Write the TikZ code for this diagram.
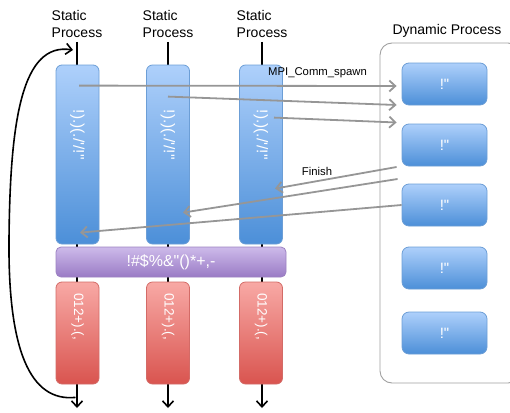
\documentclass[tikz,border=0pt]{standalone}
\usepackage{fontspec}
\setmainfont{Liberation Sans}
\usetikzlibrary{arrows.meta,positioning,calc}

\definecolor{blueA}{HTML}{AED0FB}
\definecolor{blueB}{HTML}{4C8FD8}
\definecolor{blueEdge}{HTML}{6C9ED6}
\definecolor{purpA}{HTML}{CDBAEA}
\definecolor{purpB}{HTML}{9A7BC5}
\definecolor{purpEdge}{HTML}{9C82C2}
\definecolor{redA}{HTML}{F8A9A5}
\definecolor{redB}{HTML}{D9544F}
\definecolor{redEdge}{HTML}{D36B67}
\definecolor{arrGray}{HTML}{969696}
\definecolor{frameGray}{HTML}{A0A0A0}

\begin{document}
\begin{tikzpicture}[
  x=1pt, y=-1pt,
  font=\fontsize{14}{17}\selectfont,
  head/.style={align=left, inner sep=0pt, anchor=south},
  lab/.style={font=\fontsize{11.3}{13}\selectfont, inner sep=1pt},
  bluebar/.style={draw=blueEdge, line width=0.8pt, rounded corners=6pt, top color=blueA, bottom color=blueB,
    minimum width=43pt, minimum height=179pt, inner sep=0pt},
  redbar/.style={draw=redEdge, line width=0.8pt, rounded corners=6pt, top color=redA, bottom color=redB,
    minimum width=43pt, minimum height=102pt, inner sep=0pt},
  syncbar/.style={draw=purpEdge, line width=0.8pt, rounded corners=5pt, top color=purpA, bottom color=purpB,
    minimum width=230pt, minimum height=30pt, inner sep=0pt, text=white, font=\fontsize{16}{18}\selectfont},
  dynbox/.style={draw=blueEdge, line width=0.8pt, rounded corners=7pt, top color=blueA, bottom color=blueB,
    minimum width=85pt, minimum height=42pt, inner sep=0pt, text=white, font=\fontsize{15}{17}\selectfont},
  barlab/.style={text=white, rotate=-90, inner sep=0pt, font=\fontsize{15.5}{17}\selectfont},
  colln/.style={line width=1.6pt, -{Straight Barb[length=6pt, width=11pt]}},
  grayarr/.style={draw=arrGray, line width=1.8pt, -{Straight Barb[length=6pt, width=11pt]}},
  loop/.style={line width=1.6pt, -{Straight Barb[length=6pt, width=11pt]}}
]
\useasboundingbox (0,0) rectangle (510,412);

% ---------- Columns ----------
\coordinate (top1) at (77,42);
\coordinate (top2) at (168,42);
\coordinate (top3) at (262,42);
\coordinate (bot1) at (77,408);
\coordinate (bot2) at (168,408);
\coordinate (bot3) at (262,408);

\node[head] (sp1) at ([yshift=4pt]top1) {Static\\Process};
\node[head] (sp2) at ([yshift=4pt]top2) {Static\\Process};
\node[head] (sp3) at ([yshift=4pt]top3) {Static\\Process};

\draw[colln] (top1) -- (bot1);
\draw[colln] (top2) -- (bot2);
\draw[colln] (top3) -- (bot3);

% ---------- Static process bars ----------
\node[bluebar] (sb1) at (77.5,154.5) {};
\node[bluebar] (sb2) at (168,154.5) {};
\node[bluebar] (sb3) at (261,154.5) {};
\node[barlab] at ([yshift=-70pt]sb1.north) {!).)(./\textquotesingle/!\textquotedbl};
\node[barlab] at ([yshift=-70pt]sb2.north) {!).)(./\textquotesingle/!\textquotedbl};
\node[barlab] at ([yshift=-70pt]sb3.north) {!).)(./\textquotesingle/!\textquotedbl};

\node[syncbar] (sync) at (171,262) {!\#\$\%\&\textquotedbl()*+,-};

\node[redbar] (rb1) at (77.5,333) {};
\node[redbar] (rb2) at (168,333) {};
\node[redbar] (rb3) at (261,333) {};
\node[barlab, font=\fontsize{13.5}{15}\selectfont] at ([yshift=-35pt]rb1.north) {012+).(,};
\node[barlab, font=\fontsize{13.5}{15}\selectfont] at ([yshift=-35pt]rb2.north) {012+).(,};
\node[barlab, font=\fontsize{13.5}{15}\selectfont] at ([yshift=-35pt]rb3.north) {012+).(,};

% ---------- Loop back ----------
\coordinate (loopS) at ([xshift=-2pt,yshift=-13pt]rb1.south);
\coordinate (loopE) at ([xshift=-4pt,yshift=-8pt]top1);
\draw[loop] (loopS) .. controls (30,402) and (8,350) .. (9,240)
  .. controls (10,120) and (22,42) .. (loopE);

% ---------- Dynamic processes ----------
\draw[frameGray, line width=0.9pt, rounded corners=12pt] (380,43) rectangle (520,383);
\node (dyn) at (447,31) {Dynamic Process};

\node[dynbox] (dp1) at (444.5,84) {!\textquotedbl};
\node[dynbox] (dp2) at (444.5,145) {!\textquotedbl};
\node[dynbox] (dp3) at (444.5,205) {!\textquotedbl};
\node[dynbox] (dp4) at (444.5,268) {!\textquotedbl};
\node[dynbox] (dp5) at (444.5,333) {!\textquotedbl};

% ---------- Spawn ----------
\draw[grayarr] ([xshift=1.5pt,yshift=-21pt]sb1.north) -- ([xshift=-5pt,yshift=-2pt]dp1.west);
\draw[grayarr] ([yshift=-32pt]sb2.north) -- ([xshift=-5pt,yshift=-21pt]dp1.west);
\draw[grayarr] ([xshift=13pt,yshift=-53pt]sb3.north) -- ([xshift=-5pt,yshift=22.5pt]dp2.west);
\node[lab, anchor=south west] at (267,79) {MPI\_Comm\_spawn};

% ---------- Finish ----------
\draw[grayarr] ([xshift=-5pt,yshift=-22pt]dp2.west) -- ([xshift=14pt,yshift=-124pt]sb3.north);
\draw[grayarr] ([xshift=-4pt,yshift=-34pt]dp2.west) -- ([xshift=15pt,yshift=-148pt]sb2.north);
\draw[grayarr] (dp3.west) -- ([xshift=2.5pt,yshift=-168pt]sb1.north);
\node[lab] at (317,171) {Finish};
\end{tikzpicture}
\end{document}
